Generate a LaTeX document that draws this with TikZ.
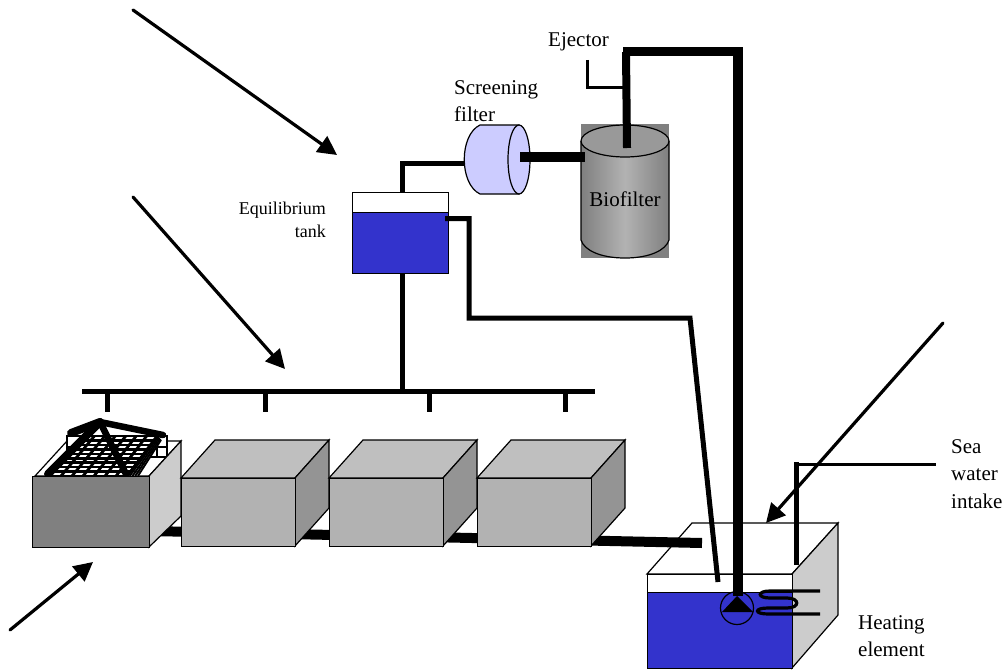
\documentclass[tikz,border=0pt]{standalone}
\usepackage{fontspec}
\setmainfont{Liberation Serif}
\usetikzlibrary{arrows.meta,calc}
\definecolor{water}{HTML}{3333CC}
\definecolor{filterblue}{HTML}{CCCCFF}
\tikzset{
 x=1pt,y=-1pt,
 face/.style={draw=black,line width=1.2pt,line join=miter},
 pointer/.style={line width=3.2pt,line cap=round,-{Triangle[length=19pt,width=19pt]}},
 pipeA/.style={line width=3pt,line join=miter},
 pipeB/.style={line width=5pt,line join=miter},
 pipeC/.style={line width=8pt,line join=miter},
 pipeD/.style={line width=10.5pt,line join=miter},
 lab/.style={inner sep=0pt,font=\fontsize{21}{27.5}\selectfont,align=left},
 cagebar/.style={line width=8pt,line cap=round},
}
\newcommand{\tankbox}[2]{% left x, name
 \draw[face,fill=black!25] (#1,478)--(#1+34,440)--(#1+148,440)--(#1+114,478)--cycle;
 \draw[face,fill=black!42] (#1+114,478)--(#1+148,440)--(#1+148,508)--(#1+114,546)--cycle;
 \node[face,fill=black!30,minimum width=114pt,minimum height=68pt,inner sep=0pt,anchor=north west] (#2) at (#1,478) {};
}
\begin{document}
\begin{tikzpicture}
\useasboundingbox (0,0) rectangle (1006,669);
\fill[white] (0,0) rectangle (1006,669);

% named points
\coordinate (a1s) at (133,10); \coordinate (a1e) at (337,155);
\coordinate (a2s) at (133,197); \coordinate (a2e) at (285,369);
\coordinate (a3s) at (10,630); \coordinate (a3e) at (93,562);
\coordinate (a4s) at (943,323); \coordinate (a4e) at (766,523);
\coordinate (mL) at (82,391); \coordinate (mR) at (595,391);

% sump
\draw[face,fill=white] (647,574)--(692,523)--(838,523)--(792,574)--cycle;
\draw[face,fill=black!20] (792,574)--(838,523)--(838,615)--(792,668)--cycle;
\node[face,fill=white,minimum width=145pt,minimum height=18pt,inner sep=0pt,anchor=north west] (sumpair) at (647,574) {};
\node[face,fill=water,minimum width=145pt,minimum height=76pt,inner sep=0pt,anchor=north west] (sump) at (647,592) {};

% drain pipe under the tanks
\coordinate (drainS) at (150,531); \coordinate (drainE) at (702,543);
\draw[pipeC,line width=10pt] (drainS)--(drainE);

% tank 1 with cage
\draw[face,fill=white] (35,476)--(67,441)--(181,441)--(149,476)--cycle;
\draw[line width=1.2pt,fill=white] (67,436) rectangle (167,457);
\draw[line width=1.2pt] (67,447)--(167,447) (157,436)--(157,457);
\coordinate (FL) at (50,476); \coordinate (FR) at (127,476);
\coordinate (BL) at (84,436); \coordinate (BR) at (157,436);
\coordinate (SF) at (138,476); \coordinate (SB) at (161,440);
\fill[white] (FL)--(FR)--(BR)--(BL)--cycle;
\fill[black!35] (FR)--(SF)--(SB)--(BR)--cycle;
\foreach \t in {0,0.111,...,1.01}{
  \draw[line width=2.6pt] ($(FL)!\t!(BL)$)--($(FR)!\t!(BR)$);
  \draw[line width=1pt] ($(FR)!\t!(BR)$)--($(SF)!\t!(SB)$);
}
\foreach \t in {0,0.143,...,1.01}{
  \draw[line width=2.8pt] ($(FL)!\t!(FR)$)--($(BL)!\t!(BR)$);
}
\foreach \t in {0.25,0.5,0.75,1}{
  \draw[line width=1.8pt] ($(FR)!\t!(SF)$)--($(BR)!\t!(SB)$);
}
\coordinate (apex) at (100,422); \coordinate (cL) at (71,433); \coordinate (cR) at (163,435);
\coordinate (lL) at (48,474); \coordinate (lR) at (126,474);
\draw[cagebar] (cL)--(apex);
\draw[cagebar,line width=6.5pt] (apex)--(cR);
\draw[cagebar] (lL)--(apex);
\draw[cagebar,line width=6.5pt] (apex)--(lR);
\draw[face,fill=black!20] (149,476)--(181,441)--(181,516)--(149,547)--cycle;
\node[face,fill=black!50,minimum width=117pt,minimum height=71pt,inner sep=0pt,anchor=north west] (tank1) at (32,476) {};

% other tanks
\tankbox{181}{tank2}
\tankbox{329}{tank3}
\tankbox{477}{tank4}

% manifold
\draw[pipeB] (mL)--(mR);
\foreach \x in {107,265,429,565}{\draw[pipeB] (\x,391)--(\x,412);}

% equilibrium tank
\node[face,fill=white,minimum width=96pt,minimum height=20pt,inner sep=0pt,anchor=north west] (eqair) at (352,192) {};
\node[face,fill=water,minimum width=96pt,minimum height=61pt,inner sep=0pt,anchor=north west] (eq) at (352,212) {};
\draw[pipeB] (402,273)--(402,391);

% screening filter
\draw[line width=1.2pt,fill=filterblue] (519,125)--(480,125)
  .. controls (459,135) and (459,184) .. (480,194)--(519,194)--cycle;
\draw[line width=1.2pt,fill=filterblue] (519,159.5) ellipse[x radius=11,y radius=34.5];
\coordinate (filtL) at (465,163);
\coordinate (filtR) at (520,157);

% biofilter
\fill[black!50] (581,124) rectangle (669,258);
\begin{scope}
\clip (581,141)--(581,240) .. controls (584,250) and (600,258) .. (625,258) .. controls (650,258) and (666,250) .. (669,240)--(669,141)--cycle;
\shade[left color=black!50,right color=black!50,middle color=black!30] (581,130) rectangle (669,260);
\end{scope}
\draw[line width=1.2pt] (581,141)--(581,240) .. controls (584,250) and (600,258) .. (625,258) .. controls (650,258) and (666,250) .. (669,240)--(669,141);
\draw[line width=1.2pt,fill=black!40] (625,141) ellipse[x radius=44,y radius=16];
\coordinate (bioL) at (585,157);

% pipes of the loop
\draw[pipeC,line width=9.5pt] (filtR)--(bioL);
\draw[pipeB] (402,192)--(402,163)--(filtL);
\coordinate (eqOut) at (445,218.5);
\draw[pipeB] (eqOut)--(469,218.5)--(469,318)--(690,318)--(718,582);
\draw[pipeC] (627,148)--(626,52);
\draw[pipeA] (587,60)--(587,87)--(626,87);
\draw[pipeD,line width=9pt] (623,52)--(743,52);
\draw[pipeD] (738,48)--(738,596);

% pump
\node[circle,draw=black,line width=1.2pt,minimum size=33pt,inner sep=0pt] (pump) at (737,608) {};
\fill[black] (737,596)--(722,612)--(753,612)--cycle;

% heater coil
\draw[line width=3.2pt] (820,591)--(770,591) .. controls (757,591) and (757,598) .. (770,598)
  --(787,598) .. controls (800,598) and (800,608) .. (787,608)
  --(768,608) .. controls (754,608) and (754,614) .. (768,614)--(820,614);

% sea water intake
\draw[pipeB] (796,565)--(796,462);
\draw[pipeA] (794,464)--(936,464);

% pointers
\draw[pointer] (a1s)--(a1e);
\draw[pointer] (a2s)--(a2e);
\draw[pointer] (a3s)--(a3e);
\draw[pointer] (a4s)--(a4e);

% labels
\node[lab,anchor=base west] (ejector) at (548,47) {Ejector};
\node[lab,anchor=north west] (screen) at (454,80) {Screening\\filter};
\node[lab,anchor=base] (bio) at (625,206) {Biofilter};
\node[inner sep=0pt,anchor=north east,align=right,font=\fontsize{18}{23}\selectfont] (eqlab) at (326,202) {Equilibrium\\tank};
\node[lab,anchor=north west] (sea) at (951,439) {Sea\\water\\intake};
\node[lab,anchor=north west] (heat) at (858,615) {Heating\\element};
\end{tikzpicture}
\end{document}
